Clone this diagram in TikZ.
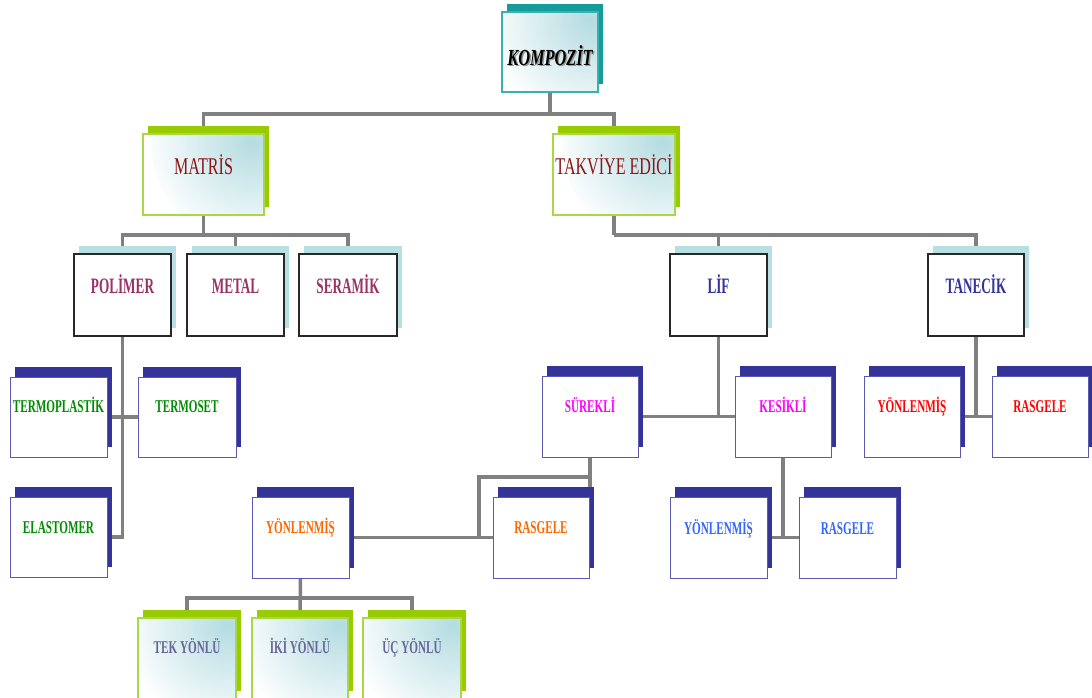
\documentclass[tikz,border=0pt]{standalone}
\usepackage{fontspec}
\setmainfont{Liberation Serif}
\newfontfamily\fA[FakeStretch=0.71]{Liberation Serif}
\newfontfamily\fB[FakeStretch=0.67]{Liberation Serif}
\newfontfamily\fC[FakeStretch=0.60]{Liberation Serif}
\newfontfamily\fD[FakeStretch=0.62]{Liberation Serif}
\usetikzlibrary{calc}
\pgfdeclarelayer{bg}
\pgfsetlayers{bg,main}
\definecolor{lineGray}{RGB}{128,128,128}
\definecolor{tealS}{RGB}{20,155,155}
\definecolor{tealB}{RGB}{60,175,175}
\definecolor{shadeT}{RGB}{180,220,225}
\definecolor{greenS}{RGB}{153,204,0}
\definecolor{greenB}{RGB}{170,215,70}
\definecolor{darkB}{RGB}{40,40,40}
\definecolor{tealL}{RGB}{184,223,227}
\definecolor{blueS}{RGB}{51,51,153}
\definecolor{blueB}{RGB}{90,90,180}
\definecolor{cMat}{RGB}{140,20,20}
\definecolor{cPol}{RGB}{153,51,102}
\definecolor{cLif}{RGB}{51,51,153}
\definecolor{cGrn}{RGB}{0,140,0}
\definecolor{cMag}{RGB}{255,0,255}
\definecolor{cOrg}{RGB}{255,102,0}
\definecolor{cBlu}{RGB}{51,102,255}
\definecolor{cRed}{RGB}{255,0,0}
\definecolor{cSla}{RGB}{102,102,153}
\definecolor{kShad}{RGB}{150,150,150}
\tikzset{
  conn/.style={draw=lineGray, line width=3.5pt},
  boxbase/.style={rectangle, inner sep=0pt, outer sep=0pt, anchor=north west},
  glow/.style={fill=white, path picture={
      \fill[inner color=shadeT, outer color=white]
        ([xshift=-8pt,yshift=-8pt]path picture bounding box.north east) circle (105pt);}},
  frontA/.style={boxbase, glow, draw=tealB, line width=1.2pt},
  shadA/.style={fill=tealS},
  frontB/.style={boxbase, glow, draw=greenB, line width=1.2pt},
  shadB/.style={fill=greenS},
  frontC/.style={boxbase, draw=darkB, line width=1.3pt, fill=white},
  shadC/.style={fill=tealL},
  frontD/.style={boxbase, draw=blueB, line width=1pt, fill=white},
  shadD/.style={fill=blueS},
  txtbase/.style={anchor=base, inner sep=0pt},
  txtA/.style={txtbase, font=\fA\bfseries\itshape\fontsize{23}{26}\selectfont},
  txtB/.style={txtbase, font=\fB\fontsize{24}{28}\selectfont, text=cMat},
  txtC/.style={txtbase, font=\fC\bfseries\fontsize{22}{26}\selectfont},
  txtD/.style={txtbase, font=\fD\bfseries\fontsize{18}{21}\selectfont},
}
\def\sdyA{8}\def\sdyB{8}\def\sdyC{8}\def\sdyD{10}
% #1 name, #2 kind, #3 x1, #4 y1, #5 x2, #6 y2, #7 text style, #8 baseline offset, #9 text
\newcommand\orgbox[9]{%
  \pgfmathsetmacro\bw{#5-#3}%
  \pgfmathsetmacro\bh{#6-#4}%
  \pgfmathsetmacro\cx{(#3+#5)/2}%
  \pgfmathsetmacro\by{-(#4+#8)}%
  \pgfmathsetmacro\sdy{\csname sdy#2\endcsname}%
  \fill[shad#2] ({#3+5},{-#4+\sdy}) rectangle ({#5+5},{-#6+\sdy});
  \node[front#2, minimum width=\bw pt, minimum height=\bh pt] (#1) at (#3,-#4) {};
  \node[#7] (#1-t) at (\cx,\by) {#9};
}
\begin{document}
\begin{tikzpicture}[x=1pt,y=1pt]
\clip (0,0) rectangle (1092,-697);
\begin{pgfonlayer}{bg}
\fill[white] (0,0) rectangle (1092,-697);
\end{pgfonlayer}

\orgbox{komp}{A}{502}{12}{598}{92}{txtA, text=white, opacity=0}{53}{}
\node[txtA, text=kShad] (komp-s) at (551.5,-66.5) {KOMPOZİT};
\node[txtA, text=black] (komp-k) at (550,-65) {KOMPOZİT};

\orgbox{matris}{B}{143}{134}{264}{215}{txtB}{40}{MATRİS}
\orgbox{takviye}{B}{553}{134}{675}{215}{txtB}{40}{TAKVİYE EDİCİ}

\orgbox{polimer}{C}{74}{254}{171}{336}{txtC, text=cPol}{39}{POLİMER}
\orgbox{metal}{C}{187}{254}{284}{336}{txtC, text=cPol}{39}{METAL}
\orgbox{seramik}{C}{299}{254}{397}{336}{txtC, text=cPol}{39}{SERAMİK}
\orgbox{lif}{C}{670}{254}{767}{336}{txtC, text=cLif}{39}{LİF}
\orgbox{tanecik}{C}{928}{254}{1024}{336}{txtC, text=cLif}{39}{TANECİK}

\orgbox{termoplastik}{D}{10}{377}{107}{457}{txtD, text=cGrn}{35}{TERMOPLASTİK}
\orgbox{termoset}{D}{138}{377}{236}{457}{txtD, text=cGrn}{35}{TERMOSET}
\orgbox{elastomer}{D}{10}{497}{107}{577}{txtD, text=cGrn}{36}{ELASTOMER}

\orgbox{surekli}{D}{542}{376}{638}{457}{txtD, text=cMag}{36}{SÜREKLİ}
\orgbox{kesikli}{D}{735}{376}{831}{457}{txtD, text=cMag}{36}{KESİKLİ}
\orgbox{yonr}{D}{864}{376}{960}{457}{txtD, text=cRed}{36}{YÖNLENMİŞ}
\orgbox{rasr}{D}{992}{376}{1088}{457}{txtD, text=cRed}{36}{RASGELE}

\orgbox{yono}{D}{252}{497}{349}{578}{txtD, text=cOrg}{36}{YÖNLENMİŞ}
\orgbox{raso}{D}{493}{497}{589}{578}{txtD, text=cOrg}{36}{RASGELE}
\orgbox{yonb}{D}{670}{497}{767}{578}{txtD, text=cBlu}{37}{YÖNLENMİŞ}
\orgbox{rasb}{D}{799}{497}{896}{578}{txtD, text=cBlu}{37}{RASGELE}

\orgbox{tek}{B}{138}{618}{236}{699}{txtD, text=cSla}{35}{TEK YÖNLÜ}
\orgbox{iki}{B}{252}{618}{348}{699}{txtD, text=cSla}{35}{İKİ YÖNLÜ}
\orgbox{uc}{B}{363}{618}{461}{699}{txtD, text=cSla}{35}{ÜÇ YÖNLÜ}

\begin{pgfonlayer}{bg}
\coordinate (h1) at (549,-114);
\draw[conn] (komp.south) -- (komp.south |- h1);
\draw[conn] (matris.north) |- (h1) -| (takviye.north);
\coordinate (h2) at (204,-235);
\draw[conn] (matris.south) -- (matris.south |- h2);
\draw[conn] (polimer.north) |- (h2) -| (seramik.north);
\draw[conn] (metal.north) -- (metal.north |- h2);
\coordinate (h3) at (614,-235);
\draw[conn] (takviye.south) -- (takviye.south |- h3);
\draw[conn] (lif.north) |- (h3) -| (tanecik.north);
\draw[conn] (polimer.south) |- (elastomer.east);
\draw[conn] (termoplastik.east) -- (termoset.west);
\draw[conn] (lif.south) -- (lif.south |- surekli.east);
\draw[conn] (surekli.east) -- (kesikli.west);
\draw[conn] (tanecik.south) -- (tanecik.south |- yonr.east);
\draw[conn] (yonr.east) -- (rasr.west);
\draw[conn] (kesikli.south) -- (kesikli.south |- yonb.east);
\draw[conn] (yonb.east) -- (rasb.west);
\coordinate (s2) at (479,-477);
\draw[conn] (surekli.south) |- (s2) |- (yono.east);
\draw[conn] (surekli.south) -- ++(0,-32);
\draw[conn] (s2 |- yono.east) -- (raso.west);
\coordinate (h4) at (300,-598);
\draw[conn] (yono.south) -- (iki.north);
\draw[conn] (tek.north) |- (h4) -| (uc.north);
\end{pgfonlayer}
\end{tikzpicture}
\end{document}
